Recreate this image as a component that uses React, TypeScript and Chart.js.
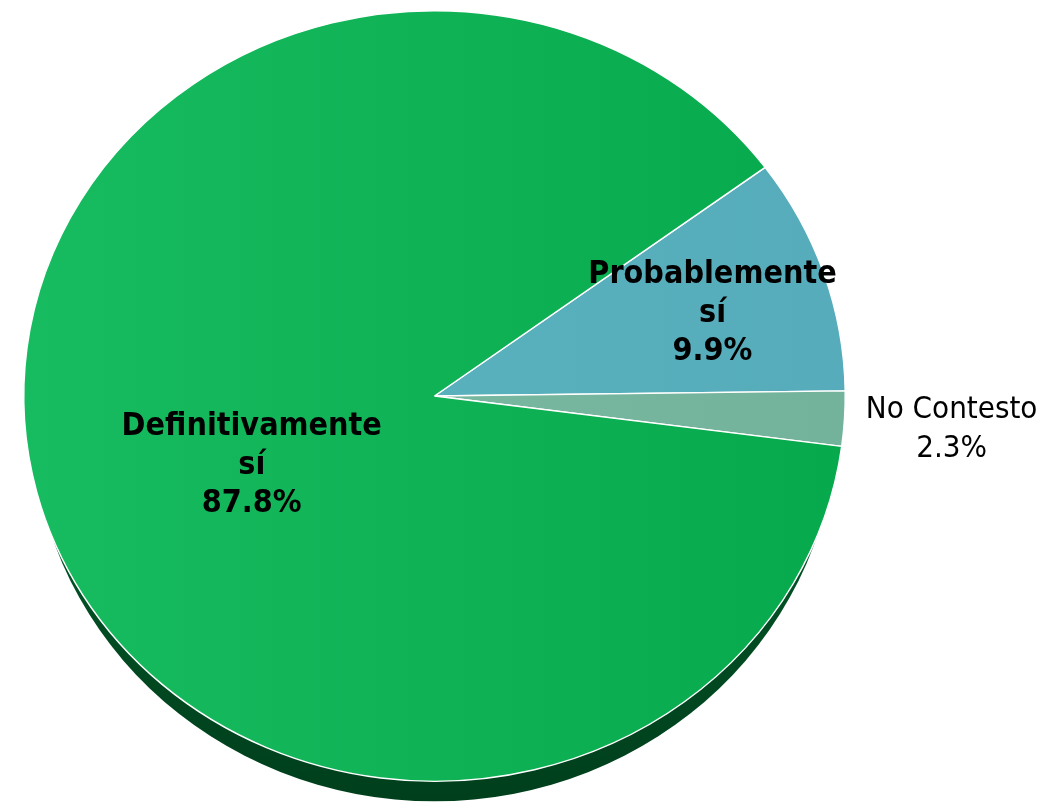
import React, { useEffect, useRef } from 'react';
import { Chart, registerables } from 'chart.js';

Chart.register(...registerables);

// ---- data ----
const categories = ['Probablemente sí', 'No Contesto', 'Definitivamente sí'];
const categoryLines = [['Probablemente', 'sí'], ['No Contesto'], ['Definitivamente', 'sí']];
const percentages = [9.9, 2.3, 87.8];

// ---- styling ----
const sliceColors = [
  ['#5cb5c1', '#56acba'],
  ['#7cbba4', '#73b39b'],
  ['#18bc60', '#06a94b'],
];
const labelBold = [true, false, true];
const labelPlacement = [
  { frac: 0.71, shift: 1.0 },
  { frac: 1.262, shift: 0.6 },
  { frac: 0.48, shift: -7.6 },
];
const ROTATION = 53.6;
const SQUASH = 0.938;
const SHIFT_Y = -15.5;
const DEPTH = 20;
const SIDE_INSET = 8;
const FONT = '"DejaVu Sans Condensed", "DejaVu Sans", sans-serif';

const pieDepth = {
  id: 'pieDepth',
  beforeDatasetsDraw(chart: any) {
    const el = chart.getDatasetMeta(0).data[0] as any;
    if (!el) return;
    const { x, y, outerRadius } = el;
    const ctx = chart.ctx as CanvasRenderingContext2D;
    ctx.save();
    ctx.translate(x, y + SHIFT_Y + DEPTH);
    ctx.scale((outerRadius - SIDE_INSET) / outerRadius, SQUASH);
    ctx.beginPath();
    ctx.arc(0, 0, outerRadius, 0, Math.PI * 2);
    const g = ctx.createLinearGradient(0, 0, 0, outerRadius);
    g.addColorStop(0, '#025c2b');
    g.addColorStop(1, '#003f1c');
    ctx.fillStyle = g;
    ctx.fill();
    ctx.restore();
    ctx.save();
    ctx.translate(x, y + SHIFT_Y);
    ctx.scale(1, SQUASH);
    ctx.translate(-x, -y);
  },
  afterDatasetsDraw(chart: any) {
    const ctx = chart.ctx as CanvasRenderingContext2D;
    ctx.restore();
    const meta = chart.getDatasetMeta(0);
    ctx.save();
    ctx.fillStyle = '#000';
    ctx.textAlign = 'center';
    ctx.textBaseline = 'middle';
    meta.data.forEach((el: any, i: number) => {
      const { x, y, startAngle, endAngle, outerRadius } = el;
      const a = (startAngle + endAngle) / 2 + (labelPlacement[i].shift * Math.PI) / 180;
      const r = outerRadius * labelPlacement[i].frac;
      const px = x + Math.cos(a) * r;
      const py = y + SHIFT_Y + Math.sin(a) * r * SQUASH;
      const lines = [...categoryLines[i], percentages[i].toFixed(1) + '%'];
      ctx.font = labelBold[i] ? `bold 32px ${FONT}` : `31px ${FONT}`;
      const lh = labelBold[i] ? 38.5 : 39;
      lines.forEach((t, j) => {
        ctx.fillText(t, px, py + (j - (lines.length - 1) / 2) * lh);
      });
    });
    ctx.restore();
  },
};

export default function App() {
  const ref = useRef<HTMLCanvasElement | null>(null);
  useEffect(() => {
    if (!ref.current) return;
    const chart = new Chart(ref.current, {
      type: 'pie',
      data: {
        labels: categories,
        datasets: [
          {
            data: percentages,
            backgroundColor: (c: any) => {
              const chartObj = c.chart;
              const area = chartObj.chartArea;
              const cols = sliceColors[c.dataIndex] || sliceColors[0];
              if (!area) return cols[0];
              const g = chartObj.ctx.createLinearGradient(area.left, 0, area.right, 0);
              g.addColorStop(0, cols[0]);
              g.addColorStop(1, cols[1]);
              return g;
            },
            borderColor: '#ffffff',
            borderWidth: 1.5,
          },
        ],
      },
      options: {
        responsive: true,
        maintainAspectRatio: false,
        animation: false,
        rotation: ROTATION,
        layout: { padding: { left: 23, right: 217, top: 0, bottom: 9 } },
        events: [],
        plugins: {
          legend: { display: false },
          tooltip: { enabled: false },
        },
      },
      plugins: [pieDepth],
    });
    return () => chart.destroy();
  }, []);
  return (
    <div style={{ position: 'absolute', left: 0, top: 0, width: 1063, height: 802, overflow: 'hidden', background: '#fff' }}>
      <div style={{ position: 'relative', width: 1063, height: 832 }}>
        <canvas ref={ref} />
      </div>
    </div>
  );
}
